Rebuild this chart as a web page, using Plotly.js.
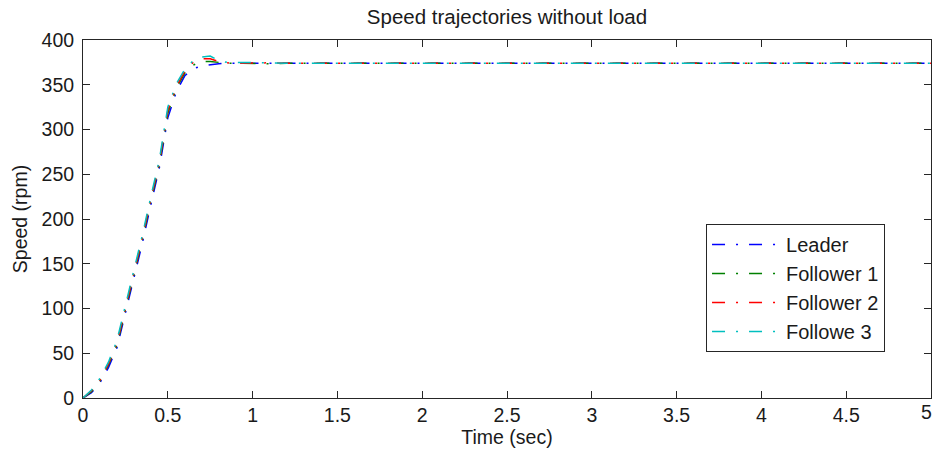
<!DOCTYPE html>
<html>
<head>
<meta charset="utf-8">
<script src="https://cdn.plot.ly/plotly-3.0.1.min.js"></script>
<style>html,body{margin:0;padding:0;background:#fff;}#chart{width:934px;height:459px;}</style>
</head>
<body>
<div id="chart"></div>
<script>
const time = [0, 0.05, 0.1, 0.15, 0.2, 0.25, 0.3, 0.35, 0.4, 0.45, 0.5, 0.55, 0.6, 0.65, 0.7, 0.75, 0.8, 0.85, 0.9, 1.0, 1.1, 1.2, 1.3, 1.5, 2, 2.5, 3, 3.5, 4, 4.5, 5];
const leader    = [0, 6, 17, 34, 56, 94, 132, 173, 216, 257, 313, 342, 360, 368, 371, 372.5, 373.5, 374, 374, 374, 373.5, 374, 374, 374, 374, 374, 374, 374, 374, 374, 374];
const follower1 = [0, 7, 19, 37, 59, 98, 136, 177, 220, 261, 318, 346, 363, 372, 376, 376, 375, 374, 374, 373.5, 373.5, 374, 374, 374, 374, 374, 374, 374, 374, 374, 374];
const follower2 = [0, 8, 20, 38, 61, 100, 138, 179, 222, 263, 321, 348, 365, 375, 379, 379, 376, 374.5, 374, 374.5, 374.5, 374, 374, 374, 374, 374, 374, 374, 374, 374, 374];
const follower3 = [0, 9, 22, 40, 64, 103, 141, 182, 225, 266, 325, 351, 367, 377, 381, 382, 377, 375, 375, 375, 374.5, 374, 374, 374, 374, 374, 374, 374, 374, 374, 374];
const seriesNames = ["Leader", "Follower 1", "Follower 2", "Followe 3"];
const seriesColors = ["#0000ff", "#008000", "#ff0000", "#00bfbf"];
const seriesValues = [leader, follower1, follower2, follower3];
const xTicks = [0, 0.5, 1, 1.5, 2, 2.5, 3, 3.5, 4, 4.5, 5];
const xTickLabels = ["0", "0.5", "1", "1.5", "2", "2.5", "3", "3.5", "4", "4.5", "5"];

const font = "Arial, 'Liberation Sans', sans-serif";
const fs = 19.5;
const txt = "#1a1a1a";
const traces = seriesValues.map((v, i) => ({
  x: time, y: v, type: "scatter", mode: "lines",
  name: seriesNames[i], legendgroup: "g" + i,
  line: {color: seriesColors[i], width: 1.5, dash: "13px,11px,2px,11px"}
}));

const axisCommon = {
  showline: true, linecolor: "#262626", linewidth: 1, mirror: "ticks",
  ticks: "inside", ticklen: 7, tickcolor: "#262626",
  showgrid: false, zeroline: false,
  tickfont: {family: font, size: fs, color: txt}
};

// last x tick label is placed right-aligned at the figure edge so it is not clipped
const lastIdx = xTickLabels.length - 1;
const shownXLabels = xTickLabels.map((t, i) => i === lastIdx ? "" : t);

const layout = {
  width: 934, height: 459,
  margin: {l: 83, r: 3, t: 40, b: 61},
  paper_bgcolor: "#fff", plot_bgcolor: "#fff",
  font: {family: font, size: fs, color: txt},
  title: {text: "Speed trajectories without load", font: {family: font, size: 20.5, color: txt},
          xref: "paper", x: 0.5, xanchor: "center", yref: "container", y: 1 - 17/459, yanchor: "middle"},
  xaxis: Object.assign({}, axisCommon, {range: [0, 5], tickmode: "array", tickvals: xTicks, ticktext: shownXLabels,
          title: {text: "Time (sec)", font: {family: font, size: fs, color: txt}, standoff: 0}}),
  yaxis: Object.assign({}, axisCommon, {range: [0, 400], dtick: 50, tick0: 0, ticklabelstandoff: 4,
          title: {text: "Speed (rpm)", font: {family: font, size: fs, color: txt}, standoff: 8}}),
  annotations: [{text: xTickLabels[lastIdx], xref: "paper", yref: "paper",
                 x: 1 + 3/848, xanchor: "right", y: -(412 - 398)/358, yanchor: "middle",
                 showarrow: false, font: {family: font, size: fs, color: txt}}],
  showlegend: true,
  legend: {x: 0.7347, y: 0.486, xanchor: "left", yanchor: "top",
           bordercolor: "#262626", borderwidth: 1, bgcolor: "#fff",
           font: {family: font, size: 20, color: txt},
           itemwidth: 69, tracegroupgap: 4, traceorder: "normal"}
};

Plotly.newPlot("chart", traces, layout, {displayModeBar: false, staticPlot: true});
</script>
</body>
</html>
